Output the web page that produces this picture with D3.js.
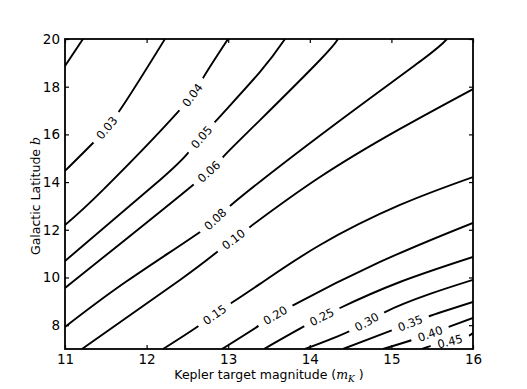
<!DOCTYPE html>
<html>
<head>
<meta charset="utf-8">
<script src="https://cdn.jsdelivr.net/npm/d3@7"></script>
<style>
  body { margin: 0; background: #fff; }
  svg { display: block; font-family: "DejaVu Sans", sans-serif; }
</style>
</head>
<body>
<div id="wrap"></div>
<script>
// tick values
const xTicks = [11, 12, 13, 14, 15, 16];
const yTicks = [8, 10, 12, 14, 16, 18, 20];

// contour levels, and the lines as [magnitude, latitude]
const levels = ["0.02", "0.03", "0.04", "0.05", "0.06", "0.08", "0.10", "0.15", "0.20", "0.25", "0.30", "0.35", "0.40", "0.45"];
const c02 = [[11.0, 18.87], [11.22, 20.0]];
const c03 = [[11.0, 14.47], [11.343, 15.64], [11.674, 17.02], [12.225, 20.0]];
const c04 = [[11.0, 12.2], [11.466, 13.67], [12.385, 16.94], [12.691, 18.36], [12.998, 20.0]];
const c05 = [[11.0, 10.69], [12.164, 14.09], [12.507, 15.22], [12.838, 16.52], [13.39, 18.62], [13.696, 20.0]];
const c06 = [[11.0, 9.56], [12.569, 13.88], [12.936, 15.05], [13.39, 16.6], [14.125, 19.12], [14.346, 20.0]];
const c08 = [[11.0, 7.925], [11.76, 9.85], [12.654, 11.91], [13.022, 13.0], [14.248, 16.27], [15.375, 19.12], [15.681, 20.0]];
const c10 = [[11.208, 7.0], [12.409, 9.895], [12.863, 11.07], [13.267, 12.12], [14.125, 14.21], [15.105, 16.23], [16.0, 17.9]];
const c15 = [[12.201, 7.0], [12.618, 7.925], [13.022, 8.89], [13.39, 9.73], [14.125, 11.36], [15.105, 13.04], [16.0, 14.21]];
const c20 = [[12.924, 7.0], [13.39, 8.01], [13.782, 8.81], [14.86, 10.65], [16.0, 12.29]];
const c25 = [[13.439, 7.0], [13.917, 7.925], [14.37, 8.72], [15.105, 9.81], [16.0, 10.86]];
const c30 = [[13.941, 7.0], [14.493, 7.76], [14.922, 8.55], [15.473, 9.31], [16.0, 9.9]];
const c35 = [[14.407, 7.0], [15.02, 7.8], [15.436, 8.34], [16.0, 8.97]];
const c40 = [[14.897, 7.0], [15.289, 7.42], [15.694, 7.92], [16.0, 8.3]];
const c45 = [[15.375, 7.0], [15.534, 7.17], [15.877, 7.46], [16.0, 7.67]];
const contourLines = [c02, c03, c04, c05, c06, c08, c10, c15, c20, c25, c30, c35, c40, c45];

// where each inline label sits (null = no label)
const labelAt = [null, [11.5, 16.31], [12.556, 17.65], [12.679, 15.85], [12.752, 14.47], [12.838, 12.45],
  [13.071, 11.57], [12.826, 8.47], [13.574, 8.43], [14.15, 8.3], [14.701, 8.13], [15.228, 8.09],
  [15.473, 7.67], [15.718, 7.34]];

const width = 527, height = 389;
const mLeft = 65, mRight = 473, mTop = 39, mBottom = 349;

const x = d3.scaleLinear().domain([11, 16]).range([mLeft, mRight]);
const y = d3.scaleLinear().domain([7, 20]).range([mBottom, mTop]);

const svg = d3.select("#wrap").append("svg")
    .attr("width", width)
    .attr("height", height);

const defs = svg.append("defs");
defs.append("clipPath").attr("id", "plotclip")
  .append("rect")
    .attr("x", mLeft).attr("y", mTop)
    .attr("width", mRight - mLeft).attr("height", mBottom - mTop);

const mask = defs.append("mask").attr("id", "gaps")
    .attr("maskUnits", "userSpaceOnUse")
    .attr("x", 0).attr("y", 0).attr("width", width).attr("height", height);
mask.append("rect")
    .attr("width", width).attr("height", height)
    .attr("fill", "white");

const line = d3.line()
    .x(d => x(d[0]))
    .y(d => y(d[1]))
    .curve(d3.curveNatural);

const lineG = svg.append("g")
    .attr("clip-path", "url(#plotclip)")
  .append("g")
    .attr("mask", "url(#gaps)")
    .attr("fill", "none")
    .attr("stroke", "#000")
    .attr("stroke-width", 1.9);

const paths = lineG.selectAll("path")
  .data(contourLines)
  .join("path")
    .attr("d", d => line(d));

// inline labels, rotated along the line
const labelG = svg.append("g")
    .attr("font-size", 11.5)
    .attr("fill", "#000");

paths.each(function(d, i) {
  if (!labelAt[i]) return;
  const p = this;
  const len = p.getTotalLength();
  const px = x(labelAt[i][0]), py = y(labelAt[i][1]);
  let best = 0, bestD = Infinity;
  for (let s = 0; s <= len; s += 0.5) {
    const q = p.getPointAtLength(s);
    const dd = (q.x - px) ** 2 + (q.y - py) ** 2;
    if (dd < bestD) { bestD = dd; best = s; }
  }
  const c = p.getPointAtLength(best);
  const a = p.getPointAtLength(Math.max(0, best - 8));
  const b = p.getPointAtLength(Math.min(len, best + 8));
  const ang = Math.atan2(b.y - a.y, b.x - a.x) * 180 / Math.PI;

  const t = labelG.append("text")
      .attr("transform", `translate(${c.x},${c.y}) rotate(${ang})`)
      .attr("text-anchor", "middle")
      .attr("dy", "0.36em")
      .text(levels[i]);
  const tw = t.node().getComputedTextLength();

  mask.append("rect")
      .attr("x", -tw / 2 - 7).attr("y", -8)
      .attr("width", tw + 14).attr("height", 16)
      .attr("fill", "black")
      .attr("transform", `translate(${c.x},${c.y}) rotate(${ang})`);
});

// axes: inward ticks on all four sides
svg.append("g")
    .attr("transform", `translate(0,${mBottom})`)
    .call(d3.axisBottom(x).tickValues(xTicks).tickSizeInner(-4).tickSizeOuter(0).tickPadding(5).tickFormat(d3.format("d")));
svg.append("g")
    .attr("transform", `translate(0,${mTop})`)
    .call(d3.axisTop(x).tickValues(xTicks).tickSizeInner(-4).tickSizeOuter(0).tickFormat(""));
svg.append("g")
    .attr("transform", `translate(${mLeft},0)`)
    .call(d3.axisLeft(y).tickValues(yTicks).tickSizeInner(-4).tickSizeOuter(0).tickPadding(5).tickFormat(d3.format("d")));
svg.append("g")
    .attr("transform", `translate(${mRight},0)`)
    .call(d3.axisRight(y).tickValues(yTicks).tickSizeInner(-4).tickSizeOuter(0).tickFormat(""));

svg.selectAll(".domain").remove();
svg.selectAll(".tick line").attr("stroke", "#000").attr("stroke-width", 1.2);
svg.selectAll(".tick text")
    .attr("font-family", "DejaVu Sans, sans-serif")
    .attr("font-size", 13.5)
    .attr("fill", "#000");

svg.append("rect")
    .attr("x", mLeft).attr("y", mTop)
    .attr("width", mRight - mLeft).attr("height", mBottom - mTop)
    .attr("fill", "none")
    .attr("stroke", "#000")
    .attr("stroke-width", 1.8);

// axis titles
const xt = svg.append("text")
    .attr("x", (mLeft + mRight) / 2)
    .attr("y", 379)
    .attr("text-anchor", "middle")
    .attr("font-size", 12.5);
xt.append("tspan").text("Kepler target magnitude (");
xt.append("tspan").attr("font-family", "DejaVu Serif, serif").attr("font-style", "italic").text("m");
xt.append("tspan").attr("font-family", "DejaVu Serif, serif").attr("font-style", "italic")
    .attr("font-size", 9).attr("dy", 3).text("K");
xt.append("tspan").attr("dy", -3).text(" )");

const yt = svg.append("text")
    .attr("transform", `translate(40,${(mTop + mBottom) / 2 + 2}) rotate(-90)`)
    .attr("text-anchor", "middle")
    .attr("font-size", 12.5);
yt.append("tspan").text("Galactic Latitude ");
yt.append("tspan").attr("font-family", "DejaVu Serif, serif").attr("font-style", "italic").text("b");
</script>
</body>
</html>
